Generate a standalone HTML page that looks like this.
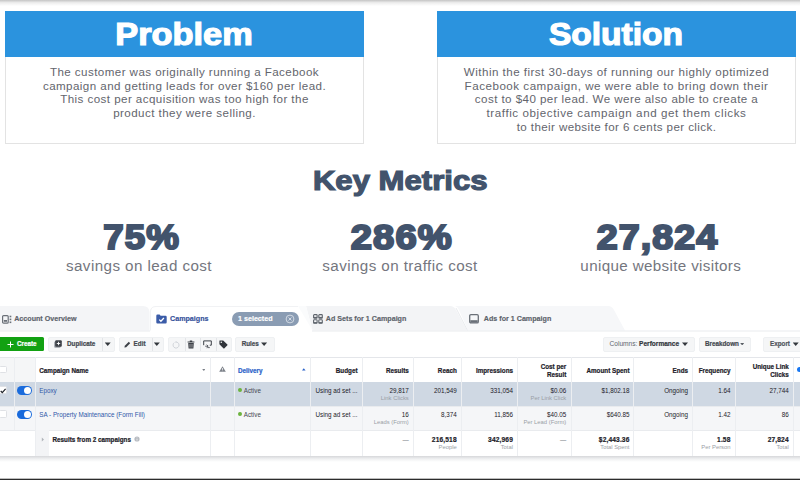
<!DOCTYPE html>
<html><head><meta charset="utf-8">
<style>
*{box-sizing:border-box;margin:0;padding:0}
html,body{width:800px;height:480px;overflow:hidden;background:#fff;font-family:"Liberation Sans",sans-serif;}
#root{position:relative;width:800px;height:480px;overflow:hidden;background:#fff}
.abs{position:absolute}
.topgrad{left:0;top:0;width:800px;height:6px;background:linear-gradient(#c4c4c4,#ededed 45%,#fff)}
.botline{left:0;top:478px;width:800px;height:2px;background:linear-gradient(#bdbdbd 0,#bdbdbd 50%,#2c2c2c 50%,#2c2c2c 100%)}
.card{border:1px solid #e3e3e3;background:#fff}
.card .hd{position:absolute;left:-1px;top:-1px;right:-1px;height:46px;background:#2b93de;color:#fff;font-weight:bold;text-align:center;font-size:31px;line-height:47px;-webkit-text-stroke:1.2px #fff}
.sx{display:inline-block;transform-origin:center}
.card .bd{position:absolute;left:0;right:0;top:53px;text-align:center;color:#63656d;font-size:11.6px;line-height:13.62px;letter-spacing:0.43px}
.km{color:#3f5068;font-weight:bold;text-align:center}
.sub{color:#74767e;text-align:center;font-size:15.2px;letter-spacing:0.42px;top:257px;line-height:18px}
.num{top:215.4px;font-size:35px;line-height:44px;-webkit-text-stroke:2.1px #42536c;color:#42536c}

/* FB panel */
#fb{position:absolute;left:0;top:300px;width:800px;height:170px;font-size:6.3px;color:#1d2129}
#fb .t{position:absolute;white-space:nowrap;line-height:8px}
#fb .b{font-weight:bold;-webkit-text-stroke:0.2px}
#fb .r{text-align:right}
#fb .tab{font-size:7.15px;font-weight:bold;color:#5d636b;line-height:9px;-webkit-text-stroke:0.15px}
#fb .btn{position:absolute;top:37px;height:14.5px;background:#f5f6f7;border:1px solid #eef0f2;border-radius:2px}
#fb .btn .t{top:3.2px;color:#444950;font-weight:bold}
#fb .vl{position:absolute;top:57px;width:1px;height:99.3px;background:#eceef1}
#fb .row{position:absolute;left:0;width:800px}
#fb .g{color:#9a9ea6;font-size:5.85px}
#fb .lnk{color:#2f58a8}
.car{position:absolute;width:6px;height:3.6px;margin:-0.2px 0 0 -0.3px;background:#33373d;clip-path:polygon(0 0,100% 0,50% 100%)}
.tog{position:absolute;left:17.2px;width:14.6px;height:9px;border-radius:4.5px;background:#1a6bdc}
.tog:after{content:"";position:absolute;right:0.8px;top:0.8px;width:7.4px;height:7.4px;border-radius:50%;background:#fff}
.cb{position:absolute;left:-1.5px;width:8.2px;height:7.6px;border:1px solid #dfe1e5;border-radius:1.5px;background:#fff}
</style></head><body><div id="root">
<div class="abs topgrad"></div>

<div class="abs card" style="left:5px;top:11px;width:359px;height:133px">
  <div class="hd"><span class="sx" style="transform:scaleX(1.108)">Problem</span></div>
  <div class="bd">The customer was originally running a Facebook<br>campaign and getting leads for over $160 per lead.<br>This cost per acquisition was too high for the<br>product they were selling.</div>
</div>
<div class="abs card" style="left:437px;top:11px;width:359px;height:133px">
  <div class="hd"><span class="sx" style="transform:scaleX(1.082);position:relative;left:-0.5px">Solution</span></div>
  <div class="bd"><span style="letter-spacing:0.47px">Within the first 30-days of running our highly optimized</span><br><span style="letter-spacing:0.51px">Facebook campaign, we were able to bring down their</span><br>cost to $40 per lead. We were also able to create a<br><span style="letter-spacing:0.585px">traffic objective campaign and get them clicks</span><br><span style="letter-spacing:0.39px">to their website for 6 cents per click.</span></div>
</div>

<div class="abs km" style="left:200px;width:400px;top:161.3px;font-size:27.5px;line-height:40px;-webkit-text-stroke:1.2px #42536c;color:#42536c"><span class="sx" style="transform:scaleX(1.131)">Key Metrics</span></div>

<div class="abs km num" style="left:42px;width:200px"><span class="sx" style="transform:scaleX(1.05);letter-spacing:1px">75%</span></div>
<div class="abs sub" style="left:19px;width:240px">savings on lead cost</div>
<div class="abs km num" style="left:301.4px;width:200px"><span class="sx" style="transform:scaleX(1.09);letter-spacing:1px">286%</span></div>
<div class="abs sub" style="left:280px;width:240px">savings on traffic cost</div>
<div class="abs km num" style="left:557.6px;width:200px"><span class="sx" style="transform:scaleX(1.075);letter-spacing:1px">27,824</span></div>
<div class="abs sub" style="left:540.8px;width:240px;letter-spacing:0.35px">unique website visitors</div>

<div id="fb">
<svg class="abs" style="left:0;top:5px" width="800" height="28" viewBox="0 5 800 28">
<path d="M0 6 H143 Q149 6 149.5 12 V30.5 H0Z" fill="#f4f5f7"/>
<path d="M306 6 H450 Q454 6 456 10 L467 30.5 H312.5Z" fill="#f3f4f6"/><path d="M298 6 H306 L312.5 30.5Z" fill="#fafbfc"/>
<path d="M455 6 H608 Q612 6 614 10 L625 30.5 H468 L459 10 Q457.5 6.5 455 6Z" fill="#f6f7f9"/>
<path d="M456 8 L467.5 30.5" stroke="#e9ebee" stroke-width="1" fill="none"/>
<path d="M150.5 30.5 V11 Q151 6.5 156 6.5 H298" fill="none" stroke="#f1f2f4" stroke-width="1"/>
<path d="M0 31 H150 M312 31 H800" stroke="#e9ebee" stroke-width="1"/>
</svg>
<svg class="abs" style="left:1.5px;top:14.5px" width="10" height="9" viewBox="0 0 10 9"><rect x="0.600" y="0.600" width="5.600" height="7.600" rx="1" fill="none" stroke="#6a7078" stroke-width="1.200"/><rect x="1.800" y="5" width="3.200" height="1.800" fill="#6a7078"/><rect x="7.600" y="0.700" width="1.700" height="1.600" fill="#6a7078"/><rect x="7.600" y="3.600" width="1.700" height="1.600" fill="#6a7078"/><rect x="7.600" y="6.500" width="1.700" height="1.600" fill="#6a7078"/></svg>
<div class="t tab" style="left:14.20px;top:14.80px;">Account Overview</div>
<svg class="abs" style="left:156px;top:14px" width="11" height="10" viewBox="0 0 11 10"><path d="M0.300 1.800 Q0.300 0.500 1.500 0.500 H3.600 L4.600 1.700 H9.600 Q10.700 1.700 10.700 2.900 V8.300 Q10.700 9.500 9.600 9.500 H1.400 Q0.300 9.500 0.300 8.300Z" fill="#3b5ca8"/><path d="M3.300 5.600 L4.900 7.200 L7.900 4" stroke="#fff" stroke-width="1.300" fill="none"/></svg>
<div class="t tab" style="left:170.00px;top:14.80px;color:#34509a">Campaigns</div>
<div class="abs" style="left:231.5px;top:11.7px;width:67.3px;height:14.3px;border-radius:7.2px;background:#8a9cb3"></div>
<div class="t tab" style="left:238.00px;top:14.80px;color:#fff">1 selected</div>
<svg class="abs" style="left:284.5px;top:13.8px" width="10" height="10" viewBox="0 0 10 10"><circle cx="5" cy="5" r="3.900" fill="none" stroke="#e3e8ef" stroke-width="0.800"/><path d="M3.500 3.500 L6.500 6.500 M6.500 3.500 L3.500 6.500" stroke="#e3e8ef" stroke-width="0.800"/></svg>
<svg class="abs" style="left:312.8px;top:14.3px" width="10" height="10" viewBox="0 0 10 10"><g fill="none" stroke="#5f656d" stroke-width="1.1"><rect x="0.6" y="0.6" width="3.5" height="3.5" rx="0.7"/><rect x="5.8" y="0.6" width="3.5" height="3.5" rx="0.7"/><rect x="0.6" y="5.8" width="3.5" height="3.5" rx="0.7"/><rect x="5.8" y="5.8" width="3.5" height="3.5" rx="0.7"/></g><g fill="#5f656d"><rect x="0.6" y="2.9" width="3.5" height="1.2"/><rect x="5.8" y="2.9" width="3.5" height="1.2"/><rect x="0.6" y="8.1" width="3.5" height="1.2"/><rect x="5.8" y="8.1" width="3.5" height="1.2"/></g></svg>
<div class="t tab" style="left:325.80px;top:14.80px;">Ad Sets for 1 Campaign</div>
<svg class="abs" style="left:469px;top:14.3px" width="10" height="10" viewBox="0 0 10 10"><rect x="0.700" y="0.700" width="8.600" height="8.200" rx="1.200" fill="none" stroke="#6a7078" stroke-width="1.300"/><rect x="1.300" y="6.200" width="7.400" height="2.400" fill="#6a7078"/></svg>
<div class="t tab" style="left:483.80px;top:14.80px;">Ads for 1 Campaign</div>
<div class="abs" style="left:-2px;top:36.8px;width:45.5px;height:14.5px;background:#12a112;border-radius:1.5px"></div>
<svg class="abs" style="left:6.5px;top:40.8px" width="7" height="7" viewBox="0 0 7 7"><path d="M3.500 0.500 V6.500 M0.500 3.500 H6.500" stroke="#fff" stroke-width="1"/></svg>
<div class="t b" style="left:17.00px;top:40.10px;color:#fff">Create</div>
<div class="btn" style="left:48px;width:66.5px"><div class="abs" style="left:53px;top:0;width:0.5px;height:100%;background:#e3e5e8"></div></div>
<svg class="abs" style="left:54.2px;top:40.2px" width="8" height="8" viewBox="0 0 8 8"><rect x="0.200" y="1.400" width="6.400" height="6.400" rx="1" fill="#9a9fa6"/><rect x="1.200" y="0.200" width="6.600" height="6.600" rx="1" fill="#3c4047"/><path d="M4.500 1.800 V5.200 M2.800 3.500 H6.200" stroke="#fff" stroke-width="0.900"/></svg>
<div class="t b" style="left:67.00px;top:40.10px;color:#444950">Duplicate</div>
<div class="car" style="left:105px;top:42.6px"></div>
<div class="btn" style="left:118.5px;width:45px"><div class="abs" style="left:32px;top:0;width:0.5px;height:100%;background:#e3e5e8"></div></div>
<svg class="abs" style="left:123.5px;top:40.8px" width="7" height="7" viewBox="0 0 7 7"><path d="M0.400 6.600 L0.800 4.800 L4.800 0.800 L6.200 2.200 L2.200 6.200Z" fill="#3c4047"/></svg>
<div class="t b" style="left:133.60px;top:40.10px;color:#444950">Edit</div>
<div class="car" style="left:154.1px;top:42.6px"></div>
<div class="btn" style="left:168px;width:63.5px"><div class="abs" style="left:15.600px;top:0;width:0.5px;height:100%;background:#e3e5e8"></div><div class="abs" style="left:31.3px;top:0;width:0.5px;height:100%;background:#e3e5e8"></div><div class="abs" style="left:47px;top:0;width:0.5px;height:100%;background:#e3e5e8"></div></div>
<svg class="abs" style="left:171.8px;top:40.5px" width="8" height="8" viewBox="0 0 8 8"><path d="M4.600 1.100 A3 3 0 1 1 2.300 1.600" fill="none" stroke="#c6cad0" stroke-width="0.800"/><path d="M3.600 0 L5 1.100 L3.600 2.200Z" fill="#c6cad0"/></svg>
<svg class="abs" style="left:187px;top:40px" width="8" height="9" viewBox="0 0 8 9"><path d="M0.600 1.600 H7.400 V2.500 H0.600Z M2.800 0.500 H5.200 V1.600 H2.800Z M1.200 3 H6.800 L6.400 8.600 H1.600Z" fill="#3c4047"/><path d="M3 4 V7.600 M5 4 V7.600" stroke="#f5f6f7" stroke-width="0.500"/></svg>
<svg class="abs" style="left:202.5px;top:40.2px" width="9" height="9" viewBox="0 0 9 9"><path d="M0.700 5.200 V0.900 H8.300 V5.200 H6.800" fill="none" stroke="#3c4047" stroke-width="1"/><path d="M2.200 6.200 H5 M3.600 4.700 L5.200 6.200 L3.600 7.700 M6.800 7.600 H4.400" fill="none" stroke="#3c4047" stroke-width="0.800"/></svg>
<svg class="abs" style="left:218.5px;top:40px" width="9" height="9" viewBox="0 0 9 9"><path d="M0.400 0.800 Q0.400 0.400 0.800 0.400 H4.200 L8.400 4.600 Q8.700 4.900 8.400 5.200 L5.200 8.400 Q4.900 8.700 4.600 8.400 L0.400 4.200Z" fill="#30343a"/><circle cx="2.300" cy="2.300" r="0.800" fill="#f5f6f7"/></svg>
<div class="btn" style="left:235px;width:39.5px"></div>
<div class="t b" style="left:241.70px;top:40.10px;color:#444950">Rules</div>
<div class="car" style="left:261.4px;top:42.6px"></div>
<div class="btn" style="left:602.5px;width:92px"></div>
<div class="t " style="left:609.50px;top:40.10px;"><span style="color:#606770;font-size:6.6px">Columns:</span> <b style="color:#33373d;font-size:6.55px;-webkit-text-stroke:0.2px">Performance</b></div>
<div class="car" style="left:682.3px;top:42.6px"></div>
<div class="btn" style="left:698.7px;width:52px"></div>
<div class="t b" style="left:705.00px;top:40.10px;color:#444950">Breakdown</div>
<div class="car" style="left:740.3px;top:43px;width:4.4px;height:2.6px;background:#5a5f66"></div>
<div class="btn" style="left:763px;width:45px"></div>
<div class="t b" style="left:770.00px;top:40.10px;color:#50555c">Export</div>
<div class="car" style="left:793px;top:42.6px"></div>
<div class="row" style="top:57px;height:25px;background:#fff;border-top:1px solid #e4e6ea"></div>
<div class="abs" style="left:0;top:58px;width:35px;height:24px;background:#f5f6f7"></div>
<div class="row" style="top:82px;height:23.5px;background:#cfd8e3"></div>
<div class="row" style="top:105.5px;height:24.5px;background:#f5f6f8;border-top:1px solid #e9ebee"></div>
<div class="row" style="top:130px;height:26.3px;background:#fff;border-top:1px solid #e9ebee"></div>
<div class="abs" style="left:35px;top:130px;width:13.5px;height:26.3px;background:#f3f4f6"></div>
<div class="row" style="top:156.3px;height:6px;background:linear-gradient(#d6d7da,#f0f1f2 50%,#fff)"></div>
<div class="vl" style="left:13.5px;height:73px"></div>
<div class="vl" style="left:34.5px"></div>
<div class="vl" style="left:209.5px"></div>
<div class="vl" style="left:233.5px"></div>
<div class="vl" style="left:310.0px"></div>
<div class="vl" style="left:361.5px"></div>
<div class="vl" style="left:412.5px"></div>
<div class="vl" style="left:460.5px"></div>
<div class="vl" style="left:517.0px"></div>
<div class="vl" style="left:570.5px"></div>
<div class="vl" style="left:633.0px"></div>
<div class="vl" style="left:692.0px"></div>
<div class="vl" style="left:734.5px"></div>
<div class="vl" style="left:792.5px"></div>
<div class="cb" style="top:65.5px"></div>
<div class="cb" style="top:86px"></div>
<svg class="abs" style="left:0.3px;top:87.5px" width="6" height="6" viewBox="0 0 6 6"><path d="M0.7 3 L2.3 4.7 L5.6 0.8" fill="none" stroke="#1d2129" stroke-width="1.15"/></svg>
<div class="cb" style="top:110px"></div>
<div class="tog" style="top:86.3px"></div>
<div class="tog" style="top:110.2px"></div>
<div class="t b" style="left:39.25px;top:66.50px;">Campaign Name</div>
<div class="car" style="left:202.5px;top:69.2px;width:3.2px;height:2px;background:#7a7f87"></div>
<svg class="abs" style="left:219px;top:66px" width="7" height="6" viewBox="0 0 7 6"><path d="M3.500 0.200 L6.800 5.800 H0.200Z" fill="#7d828a"/><path d="M3.500 2 V4" stroke="#fff" stroke-width="0.700"/><circle cx="3.500" cy="4.800" r="0.350" fill="#fff"/></svg>
<div class="t b" style="left:238.00px;top:66.50px;color:#2a62c9">Delivery</div>
<div class="abs" style="left:302px;top:68.3px;width:3.6px;height:2.3px;background:#2a62c9;clip-path:polygon(0 100%,100% 100%,50% 0)"></div>
<div class="t r b" style="right:442.50px;top:66.50px">Budget</div>
<div class="t r b" style="right:391.25px;top:66.50px">Results</div>
<div class="t r b" style="right:343.25px;top:66.50px">Reach</div>
<div class="t r b" style="right:287.00px;top:66.50px">Impressions</div>
<div class="t r b" style="right:170.50px;top:66.50px">Amount Spent</div>
<div class="t r b" style="right:112.00px;top:66.50px">Ends</div>
<div class="t r b" style="right:69.50px;top:66.50px">Frequency</div>
<div class="t r b" style="right:233.75px;top:63.00px">Cost per</div>
<div class="t r b" style="right:233.75px;top:70.70px">Result</div>
<div class="t r b" style="right:11.25px;top:63.00px">Unique Link</div>
<div class="t r b" style="right:11.25px;top:70.70px">Clicks</div>
<div class="abs" style="left:796.5px;top:66.5px;width:5px;height:5px;border-radius:50%;background:#1877f2"></div>
<div class="t lnk" style="left:39.25px;top:86.70px;">Epoxy</div>
<div class="abs" style="left:238.3px;top:88.7px;width:3.8px;height:3.8px;margin:-0.3px;border-radius:50%;background:#6cb33f"></div>
<div class="t " style="left:243.75px;top:86.70px;color:#444950">Active</div>
<div class="t " style="left:315.50px;top:86.70px;">Using ad set ...</div>
<div class="t r " style="right:391.25px;top:86.70px">29,817</div>
<div class="t r " style="right:343.25px;top:86.70px">201,549</div>
<div class="t r " style="right:287.00px;top:86.70px">331,054</div>
<div class="t r " style="right:233.75px;top:86.70px">$0.06</div>
<div class="t r " style="right:170.50px;top:86.70px">$1,802.18</div>
<div class="t r " style="right:112.00px;top:86.70px">Ongoing</div>
<div class="t r " style="right:69.50px;top:86.70px">1.64</div>
<div class="t r " style="right:11.25px;top:86.70px">27,744</div>
<div class="t r g" style="right:391.25px;top:94.40px">Link Clicks</div>
<div class="t r g" style="right:233.75px;top:94.40px">Per Link Click</div>
<div class="t lnk" style="left:39.25px;top:111.10px;">SA - Property Maintenance (Form Fill)</div>
<div class="abs" style="left:238.3px;top:112.3px;width:3.8px;height:3.8px;margin:-0.3px;border-radius:50%;background:#6cb33f"></div>
<div class="t " style="left:243.75px;top:111.10px;color:#444950">Active</div>
<div class="t " style="left:315.50px;top:111.10px;">Using ad set ...</div>
<div class="t r " style="right:391.25px;top:111.10px">16</div>
<div class="t r " style="right:343.25px;top:111.10px">8,374</div>
<div class="t r " style="right:287.00px;top:111.10px">11,856</div>
<div class="t r " style="right:233.75px;top:111.10px">$40.05</div>
<div class="t r " style="right:170.50px;top:111.10px">$640.85</div>
<div class="t r " style="right:112.00px;top:111.10px">Ongoing</div>
<div class="t r " style="right:69.50px;top:111.10px">1.42</div>
<div class="t r " style="right:11.25px;top:111.10px">86</div>
<div class="t r g" style="right:391.25px;top:117.70px">Leads (Form)</div>
<div class="t r g" style="right:233.75px;top:117.70px">Per Lead (Form)</div>
<svg class="abs" style="left:40.5px;top:137.3px" width="4" height="5" viewBox="0 0 4 5"><path d="M0.800 0.500 L3 2.500 L0.800 4.500" fill="#b0b4ba"/></svg>
<div class="t b" style="left:52.50px;top:135.50px;">Results from 2 campaigns</div>
<svg class="abs" style="left:134.3px;top:136.2px" width="6" height="6" viewBox="0 0 6 6"><circle cx="3" cy="3" r="2.600" fill="#b7bbc1"/><path d="M3 2.600 V4.500" stroke="#fff" stroke-width="0.700"/><circle cx="3" cy="1.600" r="0.400" fill="#fff"/></svg>
<div class="t r" style="right:391.25px;top:135.50px;color:#7a7f87">—</div>
<div class="t r b" style="right:343.25px;top:135.50px;font-size:6.6px;letter-spacing:0.15px">216,518</div>
<div class="t r b" style="right:287.00px;top:135.50px;font-size:6.6px;letter-spacing:0.15px">342,969</div>
<div class="t r" style="right:233.75px;top:135.50px;color:#7a7f87">—</div>
<div class="t r b" style="right:170.50px;top:135.50px;font-size:6.6px;letter-spacing:0.15px">$2,443.36</div>
<div class="t r b" style="right:69.50px;top:135.50px;font-size:6.6px;letter-spacing:0.15px">1.58</div>
<div class="t r b" style="right:11.25px;top:135.50px;font-size:6.6px;letter-spacing:0.15px">27,824</div>
<div class="t r g" style="right:343.25px;top:142.80px">People</div>
<div class="t r g" style="right:287.00px;top:142.80px">Total</div>
<div class="t r g" style="right:170.50px;top:142.80px">Total Spent</div>
<div class="t r g" style="right:69.50px;top:142.80px">Per Person</div>
<div class="t r g" style="right:11.25px;top:142.80px">Total</div>
</div>
<div class="abs botline"></div>
</div></body></html>
